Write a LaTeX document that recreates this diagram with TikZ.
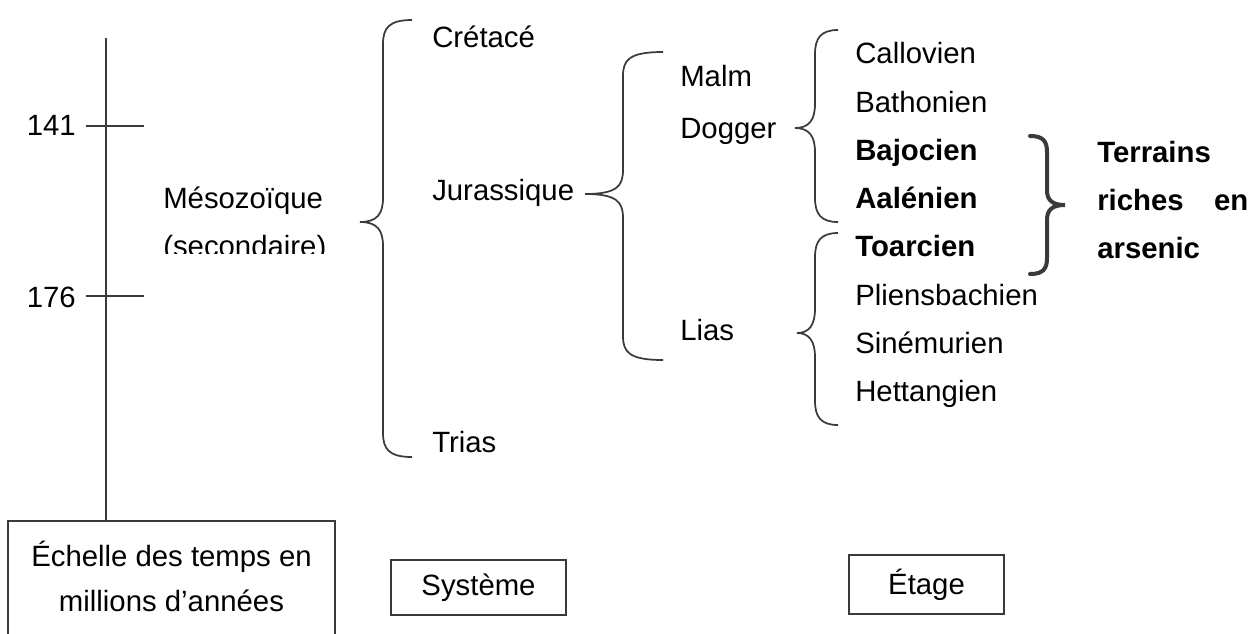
\documentclass[tikz,border=0pt]{standalone}
\usepackage{fontspec}
\setmainfont{Liberation Sans}
\definecolor{trait}{HTML}{3A3A3A}

\begin{document}
\begin{tikzpicture}[x=0.75pt,y=-0.75pt,
  font=\fontsize{22}{33.75}\selectfont,
  lbl/.style={anchor=base west,inner sep=0pt},
  gras/.style={lbl,font=\fontsize{22}{33.75}\selectfont\bfseries},
  cadre/.style={draw=trait,line width=1.4pt,inner sep=0pt},
  accolade/.style={draw=trait,line width=1.3pt}]
\useasboundingbox (0,0) rectangle (1252,633);
% axe des temps
\coordinate (axehaut) at (106,38);
\coordinate (axebas) at (106,521);
\draw[trait,line width=1.5pt] (axehaut) -- (axebas);
\node (t141) [anchor=east,inner sep=0pt] at (76,125) {141};
\node (t176) [anchor=east,inner sep=0pt] at (76,297) {176};
\draw[trait,line width=1.5pt] (86,126) -- (144,126);
\draw[trait,line width=1.5pt] (86,296) -- (144,296);
\node (echelle) [align=center,inner sep=0pt] at (171.5,576) {\'Echelle des temps en\\millions d'ann\'ees};
\draw[trait,line width=1.4pt] (8,640) |- (335,521) -- (335,640);
% ere
\node (meso) [lbl] at (163,208) {M\'esozo\"ique};
\begin{scope}
\clip (150,215) rectangle (340,253);
\node (second) [lbl] at (163,256) {(secondaire)};
\end{scope}
% systemes
\node (cret) [lbl] at (432,47) {Cr\'etac\'e};
\node (jura) [lbl] at (432,200) {Jurassique};
\node (trias) [lbl] at (432,452) {Trias};
\node (malm) [lbl] at (680,86) {Malm};
\node (dogger) [lbl] at (680,138) {Dogger};
\node (lias) [lbl] at (680,340) {Lias};
% etages
\node (callo) [lbl] at (855,63) {Callovien};
\node (batho) [lbl] at (855,112) {Bathonien};
\node (bajo) [gras] at (855,160) {Bajocien};
\node (aale) [gras] at (855,208) {Aal\'enien};
\node (toar) [gras] at (855,256) {Toarcien};
\node (plien) [lbl] at (855,305) {Pliensbachien};
\node (sine) [lbl] at (855,353) {Sin\'emurien};
\node (hett) [lbl] at (855,401) {Hettangien};
\node (terr) [gras] at (1097,162) {Terrains};
\node (riches) [gras] at (1097,210) {\hbox to 113.25pt{riches\hfill en}};
\node (arsen) [gras] at (1097,258) {arsenic};
% accolades
\foreach \xe/\yt/\xv/\xc/\yc/\yb in {412/20/383/360/222/457, 663/52/623/585/194/360,
    838/30/815/795/128/222, 838/233/815/797/333/425}
  \path[accolade] (\xe,\yt) .. controls (\xv+6,\yt) and (\xv,\yt+8) .. (\xv,\yt+24)
    -- (\xv,\yc-24) .. controls (\xv,\yc-8) and (\xv-6,\yc) .. (\xc,\yc)
    .. controls (\xv-6,\yc) and (\xv,\yc+8) .. (\xv,\yc+24)
    -- (\xv,\yb-24) .. controls (\xv,\yb-8) and (\xv+6,\yb) .. (\xe,\yb);
\draw[trait,line width=3pt,line cap=round] (1030,136) .. controls (1043,136) and (1047,141) .. (1047,152)
  -- (1047,190) .. controls (1047,200) and (1052,205) .. (1065,205)
  .. controls (1052,205) and (1047,210) .. (1047,220)
  -- (1047,258) .. controls (1047,269) and (1043,274) .. (1030,274);
% legendes
\node (syst) [cadre,minimum width=131.25pt,minimum height=41.25pt] at (478.5,587.5) {Syst\`eme};
\node (etage) [cadre,minimum width=116.25pt,minimum height=44.25pt] at (926.5,584.5) {\'Etage};
\end{tikzpicture}
\end{document}
